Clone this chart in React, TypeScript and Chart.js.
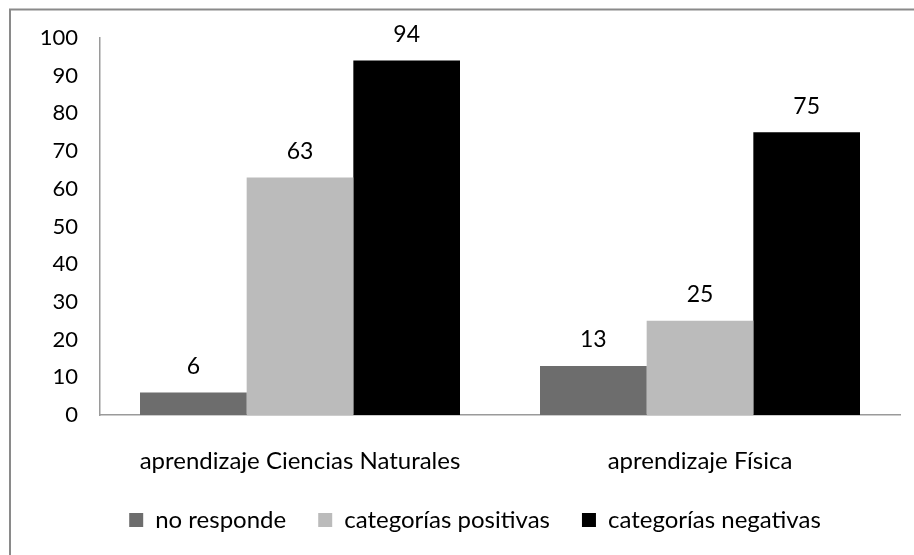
import React, { useEffect, useRef } from "react";
import { Chart, registerables } from "chart.js";

Chart.register(...registerables);

const categories = ["aprendizaje Ciencias Naturales", "aprendizaje Física"];
const seriesNames = ["no responde", "categorías positivas", "categorías negativas"];
const noResponde = [6, 13];
const positivas = [63, 25];
const negativas = [94, 75];
const seriesColors = ["#6d6d6d", "#bbbbbb", "#000000"];
const yMin = 0;
const yMax = 100;
const yStep = 10;

const FONT = "Lato, 'Open Sans', sans-serif";

const valueLabels = {
  id: "valueLabels",
  afterDatasetsDraw(chart: any) {
    const ctx = chart.ctx;
    ctx.save();
    ctx.font = `23px ${FONT}`;
    ctx.fillStyle = "#000";
    ctx.textAlign = "center";
    ctx.textBaseline = "middle";
    chart.data.datasets.forEach((ds: any, i: number) => {
      const meta = chart.getDatasetMeta(i);
      meta.data.forEach((bar: any, j: number) => {
        ctx.fillText(String(ds.data[j]), bar.x, bar.y - 26);
      });
    });
    ctx.restore();
  },
};

const frame = {
  id: "frame",
  beforeDraw(chart: any) {
    const ctx = chart.ctx;
    ctx.save();
    ctx.fillStyle = "#fff";
    ctx.fillRect(0, 0, chart.width, chart.height);
    ctx.strokeStyle = "#8a8a8a";
    ctx.lineWidth = 2;
    ctx.strokeRect(10, 9.5, 2000, 2000);
    ctx.restore();
  },
};

const legendShift = {
  id: "legendShift",
  afterLayout(chart: any) {
    if (chart.legend) chart.legend.left = 50;
  },
};

export default function App() {
  const ref = useRef<HTMLCanvasElement>(null);
  useEffect(() => {
    if (!ref.current) return;
    const data = [noResponde, positivas, negativas];
    const chart = new Chart(ref.current, {
      type: "bar",
      data: {
        labels: categories,
        datasets: seriesNames.map((name, i) => ({
          label: name,
          data: data[i],
          backgroundColor: seriesColors[i],
          borderWidth: 0,
          categoryPercentage: 0.8,
          barPercentage: 1.0,
        })),
      },
      options: {
        animation: false,
        responsive: false,
        devicePixelRatio: 1,
        layout: { padding: { top: 38, right: 14, left: 0, bottom: 13 } },
        scales: {
          x: {
            grid: { display: false, drawTicks: false },
            border: { display: true, color: "#9a9a9a", width: 1.5 },
            ticks: { color: "#000", font: { family: FONT, size: 24 }, padding: 32, maxRotation: 0 },
            afterFit: (s: any) => {
              s.height = 61;
            },
          },
          y: {
            min: yMin,
            max: yMax,
            grid: { display: false, drawTicks: false },
            border: { display: true, color: "#9a9a9a", width: 1.5 },
            ticks: { stepSize: yStep, color: "#000", font: { family: FONT, size: 22 }, padding: 22 },
            afterFit: (s: any) => {
              s.width = 100;
            },
          },
        },
        plugins: {
          legend: {
            position: "bottom",
            labels: {
              color: "#000",
              font: { family: FONT, size: 24 },
              boxWidth: 14,
              boxHeight: 14,
              padding: 32,
            },
          },
          tooltip: { enabled: false },
        },
      },
      plugins: [frame, legendShift, valueLabels],
    });
    return () => chart.destroy();
  }, []);
  return (
    <div style={{ position: "absolute", left: 0, top: 0, width: 914, height: 555 }}>
      <canvas ref={ref} width={914} height={555} style={{ width: 914, height: 555 }} />
    </div>
  );
}
